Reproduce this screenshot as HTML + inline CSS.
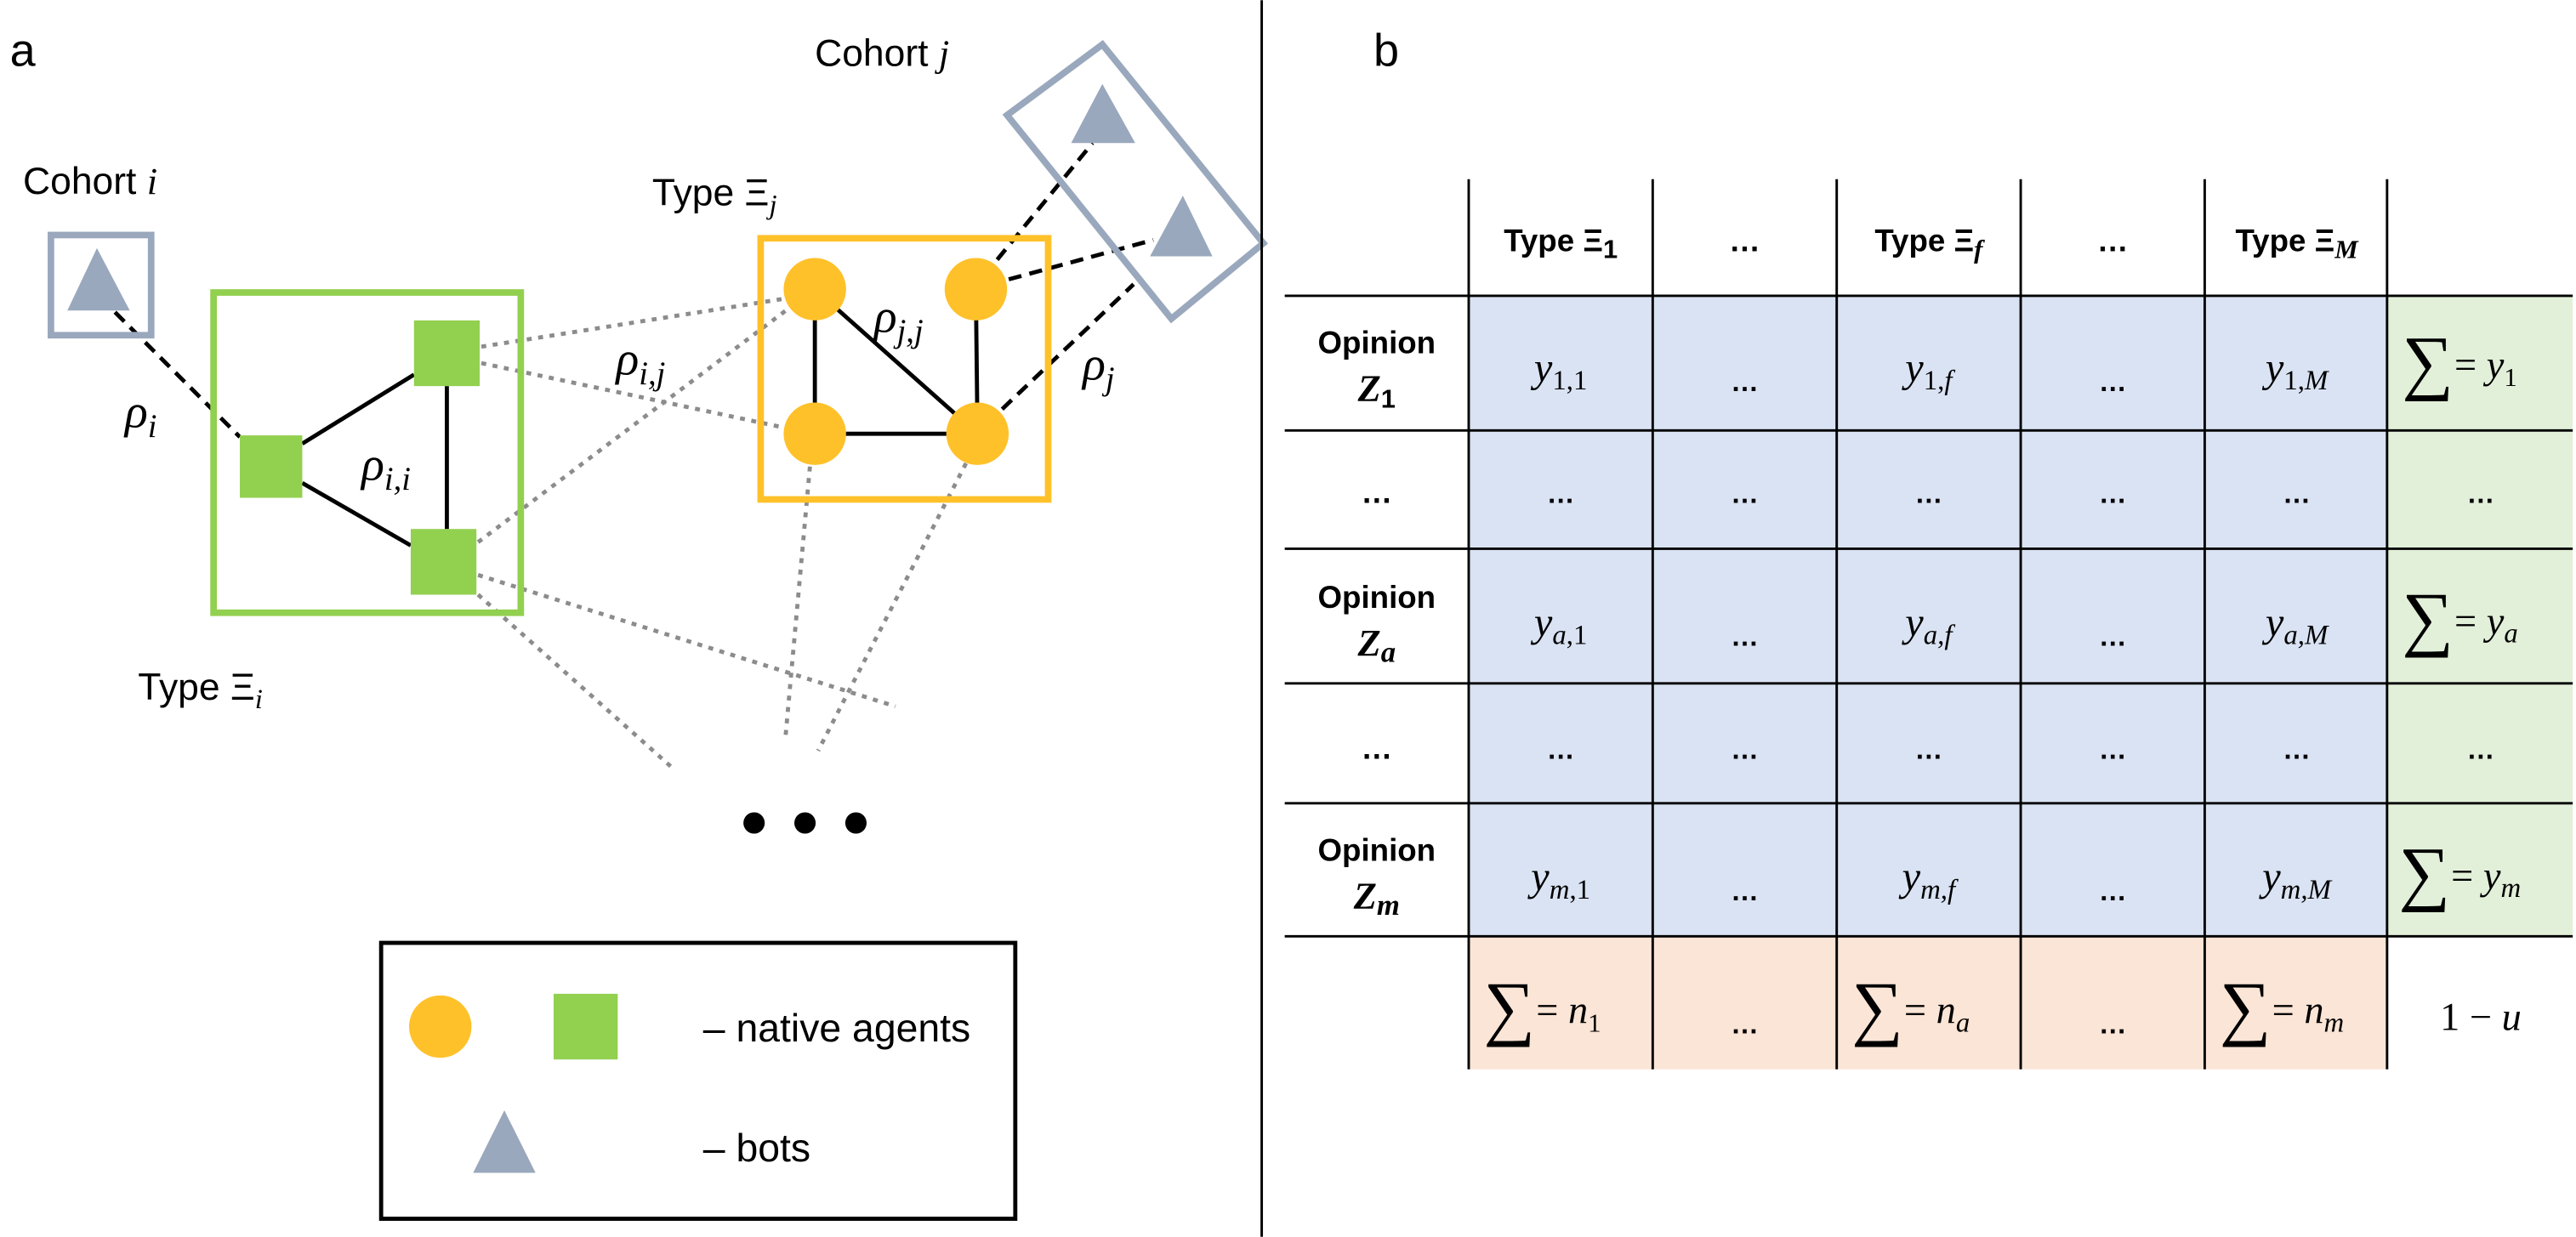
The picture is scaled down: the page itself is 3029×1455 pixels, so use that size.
<!DOCTYPE html>
<html><head><meta charset="utf-8">
<style>html,body{margin:0;padding:0;background:#fff;}svg{display:block}
.s{font-family:"Liberation Sans",sans-serif}
.m{font-family:"Liberation Serif",serif;font-style:italic}
.r{font-family:"Liberation Serif",serif}
</style></head><body>
<svg width="3029" height="1455" viewBox="0 0 1568 753" xmlns="http://www.w3.org/2000/svg">
<rect width="1568" height="753" fill="#fff"/>
<!-- panel a -->
<text x="6" y="40" class="s" font-size="28">a</text>
<text x="14" y="118" class="s" font-size="23">Cohort <tspan class="m">i</tspan></text>
<text x="496" y="40" class="s" font-size="23">Cohort <tspan class="m">j</tspan></text>
<text x="397" y="125" class="s" font-size="23">Type Ξ<tspan class="m" font-size="17" dy="5">j</tspan></text>
<text x="84" y="426" class="s" font-size="23">Type Ξ<tspan class="m" font-size="17" dy="5">i</tspan></text>

<g stroke="#8c8c8c" stroke-width="2.5" stroke-dasharray="3,4" fill="none">
<line x1="293" y1="211" x2="476" y2="182"/>
<line x1="293" y1="221" x2="476" y2="260"/>
<line x1="291" y1="330" x2="481" y2="187"/>
<line x1="291" y1="350" x2="545" y2="430"/>
<line x1="291" y1="362" x2="411" y2="469"/>
<line x1="493" y1="284" x2="478" y2="450"/>
<line x1="588" y1="282" x2="498" y2="457"/>
</g>
<g stroke="#000" stroke-width="2.5" stroke-dasharray="8,5" fill="none">
<line x1="70" y1="190" x2="146" y2="266"/>
<line x1="607" y1="158" x2="665" y2="87"/>
<line x1="614" y1="170" x2="702" y2="146"/>
<line x1="610" y1="249" x2="690" y2="173"/>
</g>
<rect x="31" y="143" width="61" height="61" fill="none" stroke="#9aa8bd" stroke-width="4"/>
<polygon points="59,151 41,189 79,189" fill="#9aa8bd"/>
<polygon points="613,70 671,27 769,148 713,194" fill="none" stroke="#9aa8bd" stroke-width="4"/>
<polygon points="671,51 652,87 691,87" fill="#9aa8bd"/>
<polygon points="720,119 700,156 738,156" fill="#9aa8bd"/>
<rect x="130" y="178" width="187" height="195" fill="none" stroke="#92d050" stroke-width="4"/>
<g stroke="#000" stroke-width="2.5">
<line x1="184" y1="270" x2="252" y2="228"/>
<line x1="184" y1="294" x2="250" y2="332"/>
<line x1="272" y1="235" x2="272" y2="322"/>
</g>
<rect x="146" y="265" width="38" height="38" fill="#92d050"/>
<rect x="252" y="195" width="40" height="40" fill="#92d050"/>
<rect x="250" y="322" width="40" height="40" fill="#92d050"/>
<rect x="463" y="145" width="175" height="159" fill="none" stroke="#ffc12a" stroke-width="4"/>
<g stroke="#000" stroke-width="2.5">
<line x1="496" y1="176" x2="496" y2="264"/>
<line x1="496" y1="264" x2="595" y2="264"/>
<line x1="594" y1="176" x2="595" y2="264"/>
<line x1="496" y1="176" x2="595" y2="264"/>
</g>
<g fill="#ffc12a">
<circle cx="496" cy="176" r="19"/><circle cx="594" cy="176" r="19"/>
<circle cx="496" cy="264" r="19"/><circle cx="595" cy="264" r="19"/>
</g>
<text x="76" y="260" class="m" font-size="29">ρ<tspan font-size="20" dy="6">i</tspan></text>
<text x="220" y="292" class="m" font-size="29">ρ<tspan font-size="20" dy="6">i,i</tspan></text>
<text x="375" y="228" class="m" font-size="29">ρ<tspan font-size="20" dy="6">i,j</tspan></text>
<text x="532" y="202" class="m" font-size="29">ρ<tspan font-size="20" dy="6">j,j</tspan></text>
<text x="659" y="231" class="m" font-size="29">ρ<tspan font-size="20" dy="6">j</tspan></text>
<circle cx="459" cy="501" r="6.5"/><circle cx="490" cy="501" r="6.5"/><circle cx="521" cy="501" r="6.5"/>
<rect x="232" y="574" width="386" height="168" fill="none" stroke="#000" stroke-width="2.5"/>
<circle cx="268" cy="625" r="19" fill="#ffc12a"/>
<rect x="337" y="605" width="39" height="40" fill="#92d050"/>
<polygon points="307,676 288,714 326,714" fill="#9aa8bd"/>
<text x="428" y="634" class="s" font-size="24">– native agents</text>
<text x="428" y="707" class="s" font-size="24">– bots</text>
<line x1="768" y1="0" x2="768" y2="753" stroke="#000" stroke-width="1.5"/>

<!-- panel b -->
<text x="836" y="40" class="s" font-size="28">b</text>
<rect x="894" y="180" width="559" height="390" fill="#dae3f3"/>
<rect x="1453" y="180" width="113" height="390" fill="#e2f0d9"/>
<rect x="894" y="570" width="559" height="81" fill="#fbe5d6"/>
<g stroke="#000" stroke-width="1.5">
<line x1="782" y1="180" x2="1566" y2="180"/>
<line x1="782" y1="262" x2="1566" y2="262"/>
<line x1="782" y1="334" x2="1566" y2="334"/>
<line x1="782" y1="416" x2="1566" y2="416"/>
<line x1="782" y1="489" x2="1566" y2="489"/>
<line x1="782" y1="570" x2="1566" y2="570"/>
<line x1="894" y1="109" x2="894" y2="651"/>
<line x1="1006" y1="109" x2="1006" y2="651"/>
<line x1="1118" y1="109" x2="1118" y2="651"/>
<line x1="1230" y1="109" x2="1230" y2="651"/>
<line x1="1342" y1="109" x2="1342" y2="651"/>
<line x1="1453" y1="109" x2="1453" y2="651"/>
</g>
<g class="s" font-size="19" font-weight="bold" text-anchor="middle">
<text x="950" y="153">Type Ξ<tspan font-size="16" dy="4">1</tspan></text>
<text x="1062" y="153">…</text>
<text x="1174" y="153">Type Ξ<tspan class="m" font-size="16" dy="4">f</tspan></text>
<text x="1286" y="153">…</text>
<text x="1398" y="153">Type Ξ<tspan class="m" font-size="16" dy="4">M</tspan></text>
<text x="838" y="215">Opinion</text>
<text x="838" y="244"><tspan class="r" font-style="italic" font-size="23">Z</tspan><tspan font-size="16" dy="4">1</tspan></text>
<text x="838" y="306">…</text>
<text x="838" y="370">Opinion</text>
<text x="838" y="399"><tspan class="r" font-style="italic" font-size="23">Z</tspan><tspan class="r" font-style="italic" font-size="18" dy="4">a</tspan></text>
<text x="838" y="462">…</text>
<text x="838" y="524">Opinion</text>
<text x="838" y="553"><tspan class="r" font-style="italic" font-size="23">Z</tspan><tspan class="r" font-style="italic" font-size="18" dy="4">m</tspan></text>
</g>
<g class="s" font-size="17" text-anchor="middle" font-weight="bold">
<text x="1062" y="238">…</text><text x="1286" y="238">…</text>
<text x="950" y="306">…</text><text x="1062" y="306">…</text><text x="1174" y="306">…</text><text x="1286" y="306">…</text><text x="1398" y="306">…</text><text x="1510" y="306">…</text>
<text x="1062" y="393">…</text><text x="1286" y="393">…</text>
<text x="950" y="462">…</text><text x="1062" y="462">…</text><text x="1174" y="462">…</text><text x="1286" y="462">…</text><text x="1398" y="462">…</text><text x="1510" y="462">…</text>
<text x="1062" y="548">…</text><text x="1286" y="548">…</text>
<text x="1062" y="629">…</text><text x="1286" y="629">…</text>
</g>
<g class="m" font-size="25" text-anchor="middle">
<text x="950" y="232">y<tspan class="r" font-style="normal" font-size="17" dy="5">1,1</tspan></text>
<text x="1174" y="232">y<tspan font-size="17" dy="5"><tspan class="r" font-style="normal">1,</tspan>f</tspan></text>
<text x="1398" y="232">y<tspan font-size="17" dy="5"><tspan class="r" font-style="normal">1,</tspan>M</tspan></text>
<text x="950" y="387">y<tspan font-size="17" dy="5">a<tspan class="r" font-style="normal">,1</tspan></tspan></text>
<text x="1174" y="387">y<tspan font-size="17" dy="5">a,f</tspan></text>
<text x="1398" y="387">y<tspan font-size="17" dy="5">a,M</tspan></text>
<text x="950" y="542">y<tspan font-size="17" dy="5">m<tspan class="r" font-style="normal">,1</tspan></tspan></text>
<text x="1174" y="542">y<tspan font-size="17" dy="5">m,f</tspan></text>
<text x="1398" y="542">y<tspan font-size="17" dy="5">m,M</tspan></text>
</g>
<g font-size="24">
<text x="1462" y="235" class="r" font-size="44">∑</text><text x="1494" y="230" class="r">= <tspan class="m">y</tspan><tspan class="r" font-size="16" dy="5">1</tspan></text>
<text x="1462" y="391" class="r" font-size="44">∑</text><text x="1494" y="386" class="r">= <tspan class="m">y</tspan><tspan class="m" font-size="17" dy="5">a</tspan></text>
<text x="1460" y="546" class="r" font-size="44">∑</text><text x="1492" y="541" class="r">= <tspan class="m">y</tspan><tspan class="m" font-size="17" dy="5">m</tspan></text>
<text x="903" y="628" class="r" font-size="44">∑</text><text x="935" y="623" class="r">= <tspan class="m">n</tspan><tspan class="r" font-size="16" dy="5">1</tspan></text>
<text x="1127" y="628" class="r" font-size="44">∑</text><text x="1159" y="623" class="r">= <tspan class="m">n</tspan><tspan class="m" font-size="17" dy="5">a</tspan></text>
<text x="1351" y="628" class="r" font-size="44">∑</text><text x="1383" y="623" class="r">= <tspan class="m">n</tspan><tspan class="m" font-size="17" dy="5">m</tspan></text>
<text x="1510" y="627" class="r" text-anchor="middle">1 − <tspan class="m">u</tspan></text>
</g>
</svg>
</body></html>
